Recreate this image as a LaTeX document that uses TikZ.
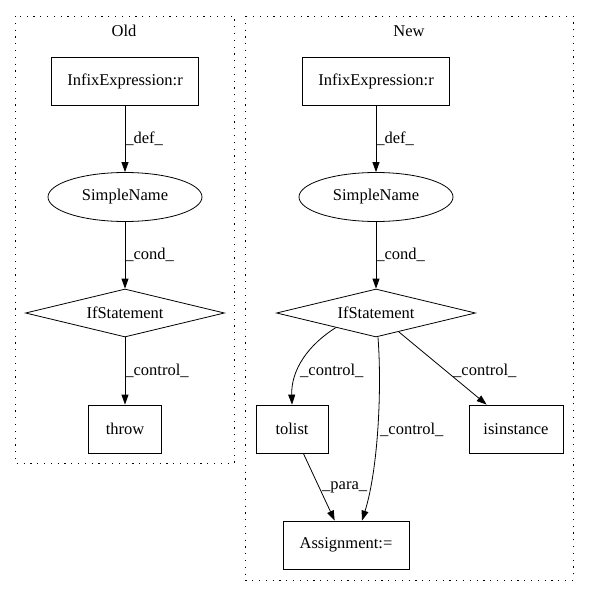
\documentclass[tikz,border=0pt]{standalone}
\usepackage{fontspec}
\setmainfont{Liberation Serif}
\usetikzlibrary{shapes.geometric,arrows.meta}
\begin{document}
\begin{tikzpicture}[x=1pt,y=-1pt,
  every node/.style={font=\fontsize{16.5}{19}\selectfont},
  box/.style={draw,line width=0.8pt,rectangle,inner sep=0pt,minimum height=48pt},
  oval/.style={draw,line width=0.8pt,ellipse,inner sep=0pt,minimum width=154pt,minimum height=49pt},
  cond/.style={draw,line width=0.8pt,diamond,aspect=4.1,inner sep=0pt,minimum width=199pt,minimum height=48pt},
  cluster/.style={draw,line width=0.8pt,dash pattern=on 1.2pt off 5.6pt},
  edge/.style={draw,line width=0.8pt,-{Triangle[length=10pt,width=7pt]}},
  lab/.style={anchor=west,inner sep=0pt}
]
\useasboundingbox (0,0) rectangle (589,596);
% clusters
\draw[cluster] (15,16) rectangle (234,463);
\draw[cluster] (245,16) rectangle (573,580);
\node (oldlab) at (124,31) {Old};
\node (newlab) at (409,31) {New};
% Old nodes
\node[box,minimum width=147pt] (oinfix) at (125,81) {InfixExpression:r};
\node[oval] (osimple) at (125,197) {SimpleName};
\node[cond] (oif) at (125,313) {IfStatement};
\node[box,minimum width=73pt] (othrow) at (125,429) {throw};
% New nodes
\node[box,minimum width=147pt] (ninfix) at (376,81) {InfixExpression:r};
\node[oval] (nsimple) at (376,197) {SimpleName};
\node[cond] (nif) at (376,313) {IfStatement};
\node[box,minimum width=72pt] (tolist) at (292,429) {tolist};
\node[box,minimum width=94pt] (isinst) at (516,429) {isinstance};
\node[box,minimum width=126pt] (assign) at (346,545) {Assignment:=};
% Old edges
\draw[edge] (oinfix) -- node[lab,right] {\_def\_} (osimple);
\draw[edge] (osimple) -- node[lab,right] {\_cond\_} (oif);
\draw[edge] (oif) -- node[lab,right] {\_control\_} (othrow);
% New edges
\draw[edge] (ninfix) -- node[lab,right] {\_def\_} (nsimple);
\draw[edge] (nsimple) -- node[lab,right] {\_cond\_} (nif);
\draw[edge] (nif.200) .. controls (308,345) and (291,370) .. (tolist.north);
\node[lab] (l1) at (300,371) {\_control\_};
\draw[edge] ([xshift=2pt]nif.south) .. controls (382,390) and (378,470) .. ([xshift=16pt]assign.north);
\node[lab] (l2) at (380,430) {\_control\_};
\draw[edge] (nif) -- (isinst);
\node[lab] (l3) at (453,371) {\_control\_};
\draw[edge] (tolist) -- (assign);
\node[lab] (l4) at (322,487) {\_para\_};
\end{tikzpicture}
\end{document}
